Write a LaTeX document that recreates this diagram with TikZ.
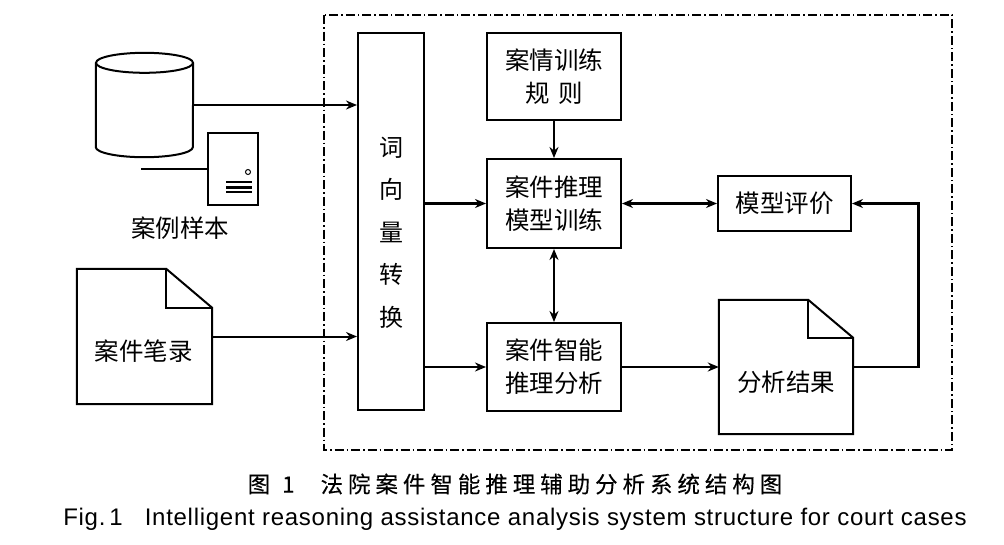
\documentclass[tikz,border=0pt]{standalone}
\usepackage{fontspec}
\setmainfont{Liberation Sans}
\newfontfamily\cjk{Noto Sans CJK SC}
\usetikzlibrary{positioning,calc,arrows.meta}
\tikzset{
	box/.style={draw, line width=2pt, inner sep=0pt, align=center},
	cn/.style={font=\cjk\fontsize{24.5}{33}\selectfont, align=center, inner sep=0pt},
	link/.style={line width=2.8pt, -{Stealth[length=11pt,width=9pt]}},
	thinlink/.style={line width=2pt, -{Stealth[length=11pt,width=9pt]}},
	dlink/.style={line width=2.8pt, {Stealth[length=11pt,width=9pt]}-{Stealth[length=11pt,width=9pt]}},
	plain/.style={line width=2pt},
}
\begin{document}
\begin{tikzpicture}[x=1pt, y=-1pt]
				\useasboundingbox (0,0) rectangle (1004,544);
				% system frame
				\draw[line width=1.5pt, dash pattern=on 9pt off 3pt on 1.5pt off 3pt] (324,15) rectangle (952,450);
				% case samples: database and server
				\node[minimum width=97, minimum height=104, inner sep=0pt] (db) at (144.5,105) {};
				\draw[plain] ($(db.north)+(0,10)$) ellipse [x radius=48.5pt, y radius=10pt];
				\draw[plain] ($(db.north west)+(0,10)$) -- ($(db.south west)+(0,-10)$)
					arc[start angle=180, end angle=360, x radius=48.5pt, y radius=10pt]
					-- ($(db.north east)+(0,10)$);
				\node[box, minimum width=50, minimum height=72] (srv) at (233,169) {};
				\draw[line width=2.5pt] (srv.west) -- ++(-66,0);
				\draw[line width=1pt] ($(srv.center)+(15,3)$) circle[radius=2.5pt];
				\foreach \dy/\lw in {13/1.2pt, 18/3pt, 23/1.2pt}{
					\draw[line width=\lw] ($(srv.center)+(-7,\dy)$) -- ++(26,0);
				}
				\node[cn] (samples) at (180,228) {案例样本};
				% case notes document
				\node[minimum width=135, minimum height=135, inner sep=0pt] (notes) at (144.5,336.5) {};
				\draw[plain] (notes.south west) -- (notes.north west) -- ($(notes.north east)+(-46,0)$)
					-- ($(notes.north east)+(0,39)$) -- (notes.south east) -- cycle;
				\draw[plain] ($(notes.north east)+(-46,0)$) |- ($(notes.north east)+(0,39)$);
				\node[cn] at ($(notes.center)+(-1,15)$) {案件笔录};
				% word vector conversion
				\node[box, minimum width=66, minimum height=377] (wv) at (391,221.5) {};
				\node[cn, font=\cjk\fontsize{24}{42.5}\selectfont] at ($(wv.center)+(0,11)$) {词\\向\\量\\转\\换};
				% model boxes
				\node[box, cn, draw, line width=2pt, minimum width=134, minimum height=87] (rule) at (554,76.5)
					{\fontsize{24.5}{32}\selectfont 案情训练\\规\,\,则};
				\node[box, cn, draw, line width=2pt, minimum width=134, minimum height=89] (train) at (554,203.5)
					{\fontsize{24.5}{34}\selectfont 案件推理\\模型训练};
				\node[box, cn, draw, line width=2pt, minimum width=133, minimum height=55] (eval) at (784.5,203.5) {模型评价};
				\node[box, cn, draw, line width=2pt, minimum width=134, minimum height=88] (infer) at (554,367)
					{\fontsize{24.5}{31}\selectfont 案件智能\\推理分析};
				% analysis result document
				\node[minimum width=134, minimum height=134, inner sep=0pt] (result) at (786,367) {};
				\draw[plain] (result.south west) -- (result.north west) -- ($(result.north east)+(-45,0)$)
					-- ($(result.north east)+(0,38)$) -- (result.south east) -- cycle;
				\draw[plain] ($(result.north east)+(-45,0)$) |- ($(result.north east)+(0,38)$);
				\node[cn] at ($(result.center)+(0,15)$) {分析结果};
				% connectors
				\draw[thinlink] (db.east) -- (db.east -| wv.west);
				\draw[thinlink] (notes.east) -- (notes.east -| wv.west);
				\draw[link] (wv.east |- train.west) -- (train.west);
				\draw[link] (wv.east |- infer.west) -- (infer.west);
				\draw[link] (rule) -- (train);
				\draw[dlink] (train.east) -- (eval.west);
				\draw[dlink] (train) -- (infer);
				\draw[link] (infer.east) -- (result.west);
				\draw[link] (result.east) -- ++(65,0) |- (eval.east);
				% captions
				\node[font=\cjk\fontsize{22.5}{26}\selectfont\addfontfeature{LetterSpace=22,FakeBold=0.25}] (capcn) at (515,484)
					{图\hspace{12pt}1\hspace{26pt}法院案件智能推理辅助分析系统结构图};
				\node[font=\fontsize{24}{28}\selectfont\addfontfeature{LetterSpace=3}] (capen) at (515,519)
					{Fig.\,1\hspace{22pt}Intelligent reasoning assistance analysis system structure for court cases};
\end{tikzpicture}
\end{document}
